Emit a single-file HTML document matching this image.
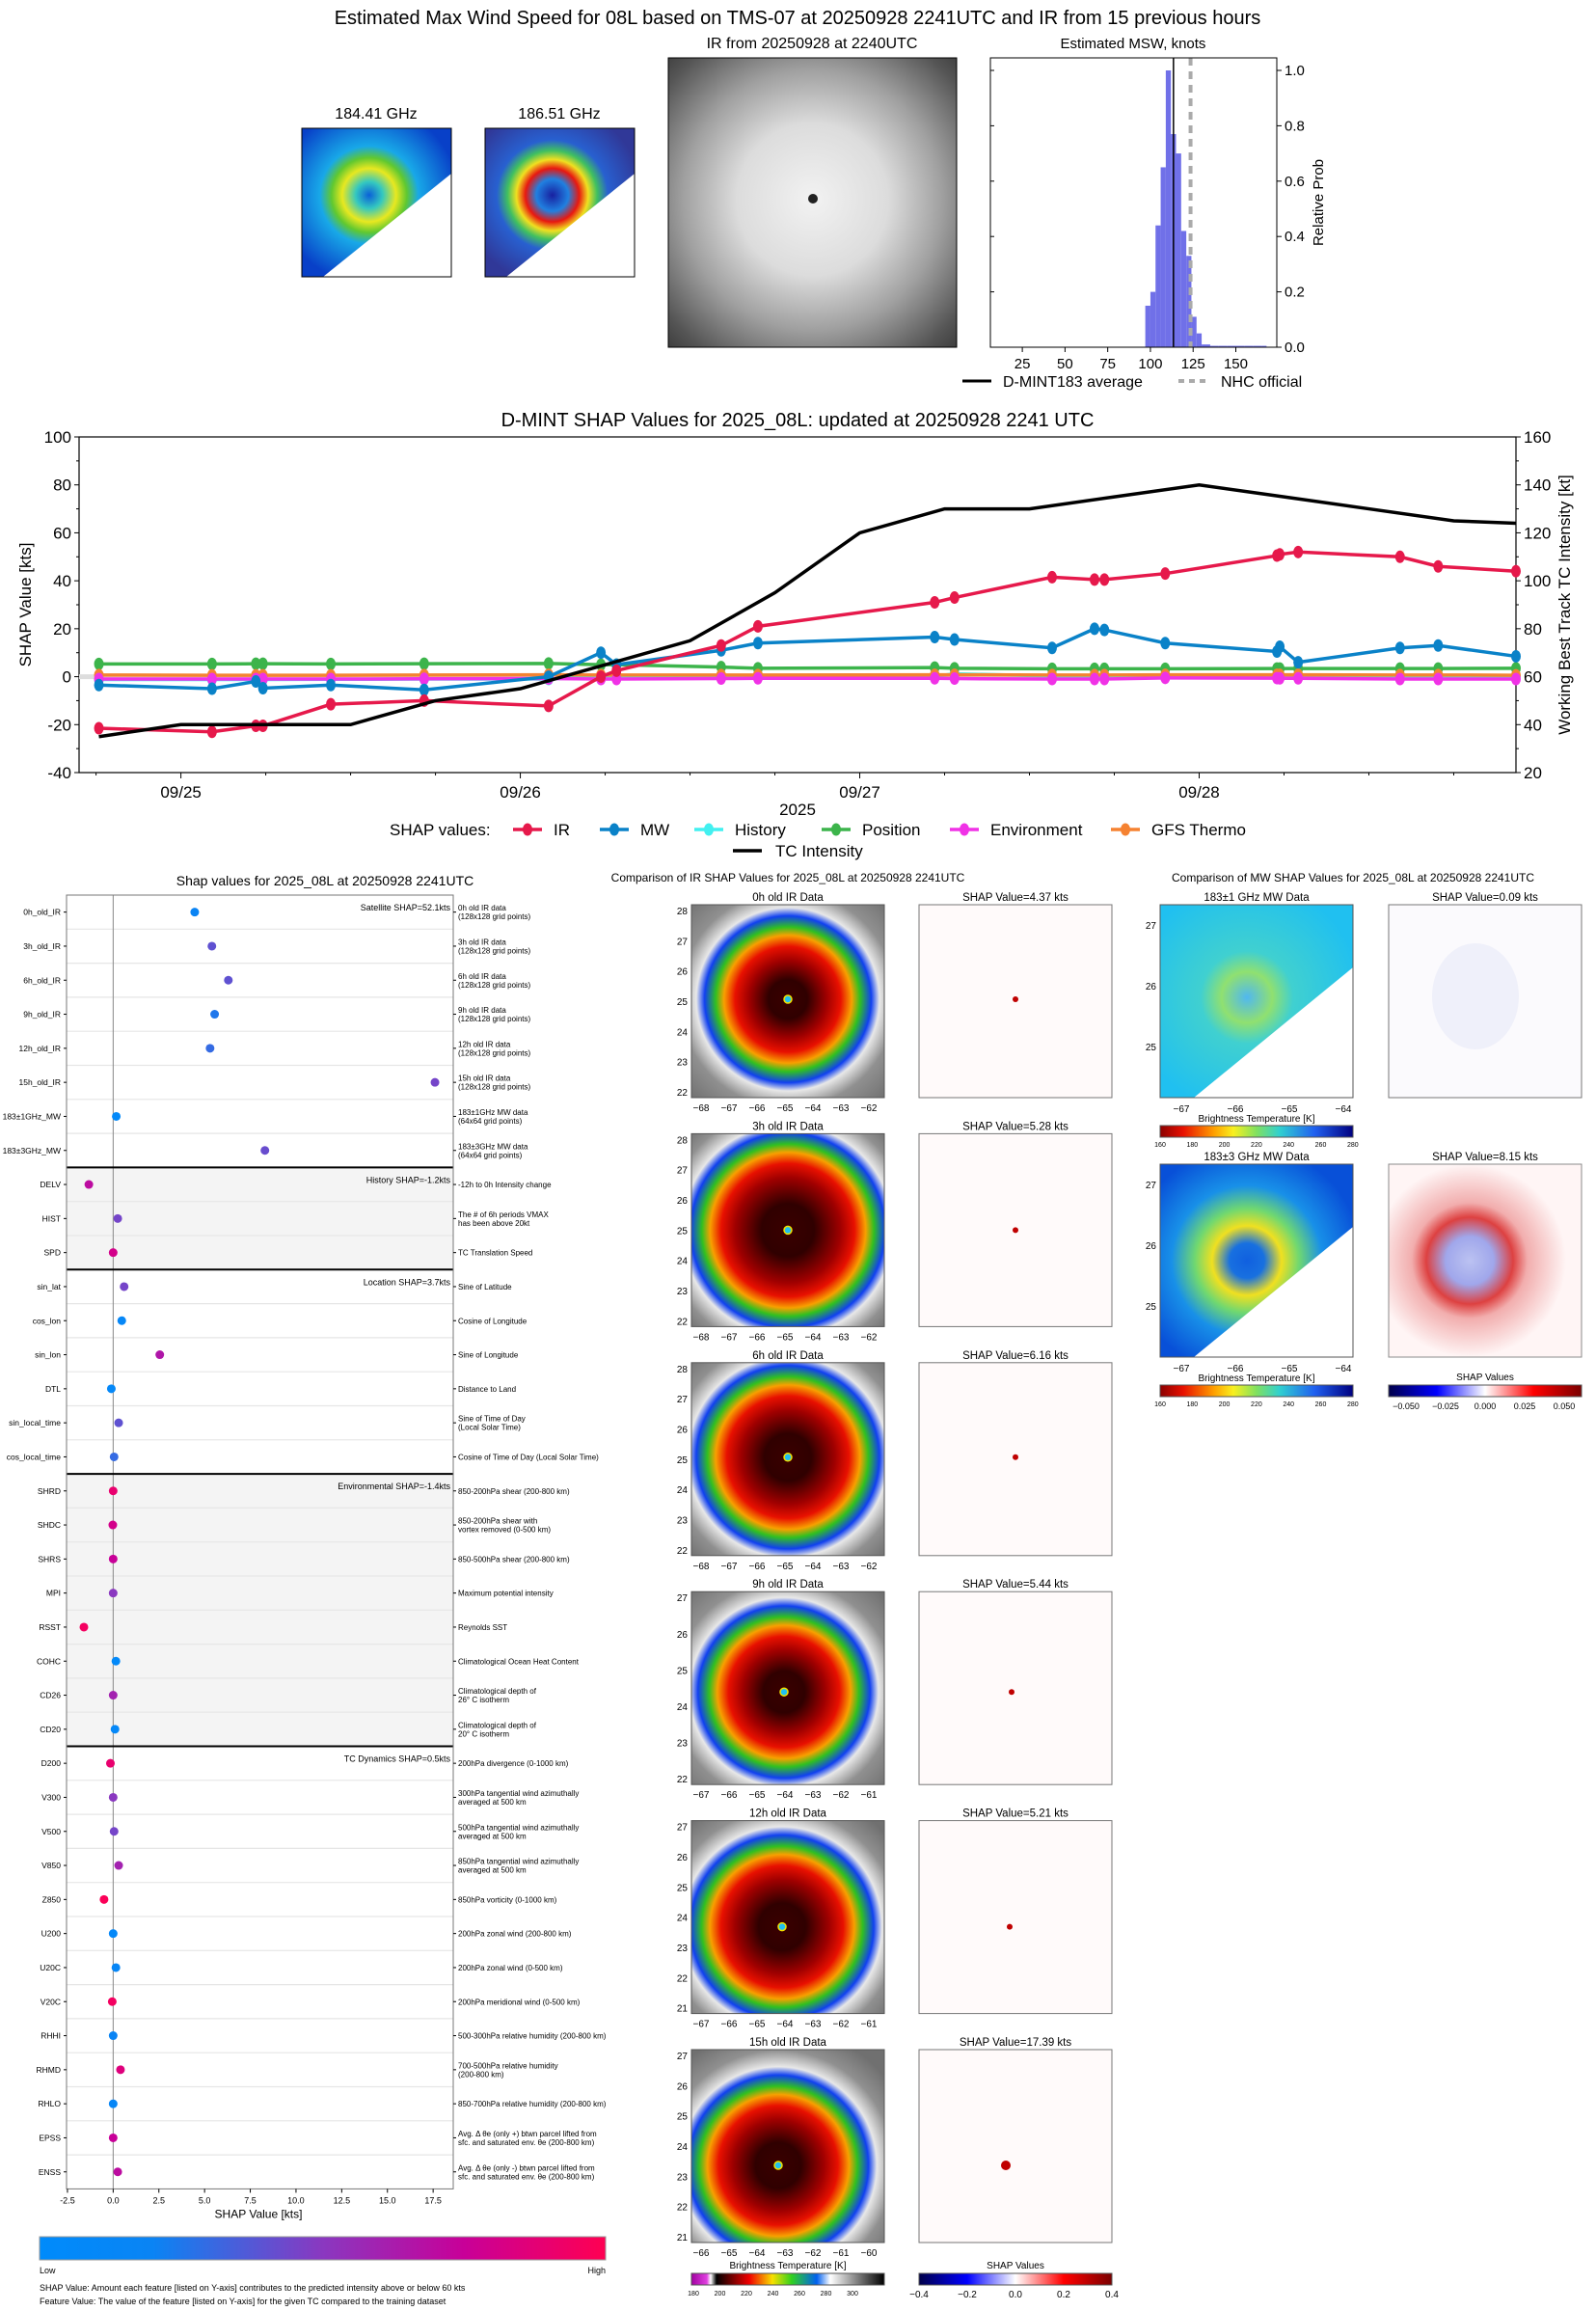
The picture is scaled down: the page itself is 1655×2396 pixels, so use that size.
<!DOCTYPE html>
<html><head><meta charset="utf-8"><style>
body{margin:0;background:#fff}
svg{display:block;font-family:"Liberation Sans",sans-serif}
</style></head><body>
<svg id="s" width="1655" height="2396" viewBox="0 0 1655 2396" xmlns="http://www.w3.org/2000/svg">
<defs>
<radialGradient id="gIR" cx="0.5" cy="0.49" r="0.75">
<stop offset="0" stop-color="#f2f2f2"/><stop offset="0.35" stop-color="#dcdcdc"/><stop offset="0.6" stop-color="#a0a0a0"/><stop offset="0.85" stop-color="#555"/><stop offset="1" stop-color="#333"/></radialGradient>
<radialGradient id="mw1" cx="0.45" cy="0.45" r="0.6"><stop offset="0" stop-color="#0a60d8"/><stop offset="0.15" stop-color="#34c8c0"/><stop offset="0.3" stop-color="#e8e820"/><stop offset="0.42" stop-color="#60c830"/><stop offset="0.55" stop-color="#18a8e8"/><stop offset="1" stop-color="#0840c8"/></radialGradient>
<radialGradient id="mw2" cx="0.45" cy="0.45" r="0.6"><stop offset="0" stop-color="#1820a0"/><stop offset="0.18" stop-color="#2080e0"/><stop offset="0.3" stop-color="#e81810"/><stop offset="0.4" stop-color="#f0e020"/><stop offset="0.5" stop-color="#40c060"/><stop offset="0.62" stop-color="#2860d0"/><stop offset="1" stop-color="#303898"/></radialGradient>
<radialGradient id="mw3" cx="0.45" cy="0.48" r="0.6"><stop offset="0" stop-color="#50b8f0"/><stop offset="0.22" stop-color="#90e070"/><stop offset="0.4" stop-color="#40d0d0"/><stop offset="1" stop-color="#20c0f0"/></radialGradient>
<radialGradient id="mw4" cx="0.45" cy="0.5" r="0.6"><stop offset="0" stop-color="#1060e0"/><stop offset="0.15" stop-color="#1870e0"/><stop offset="0.3" stop-color="#f0e020"/><stop offset="0.45" stop-color="#70d870"/><stop offset="0.65" stop-color="#1890e8"/><stop offset="1" stop-color="#0850d8"/></radialGradient>
<radialGradient id="shapMW" cx="0.42" cy="0.5" r="0.5"><stop offset="0" stop-color="#b0b8f0"/><stop offset="0.25" stop-color="#9098e8"/><stop offset="0.45" stop-color="#d82020"/><stop offset="0.6" stop-color="#f0a0a0"/><stop offset="1" stop-color="#fff4f4"/></radialGradient>
<linearGradient id="cbLow" x1="0" x2="1"><stop offset="0" stop-color="#008bfb"/><stop offset="0.2" stop-color="#0a84f4"/><stop offset="0.5" stop-color="#8a38c0"/><stop offset="0.75" stop-color="#c80098"/><stop offset="1" stop-color="#ff0052"/></linearGradient>
<linearGradient id="cbBT" x1="0" x2="1"><stop offset="0" stop-color="#8b0000"/><stop offset="0.12" stop-color="#e81000"/><stop offset="0.28" stop-color="#ffa000"/><stop offset="0.38" stop-color="#f8f020"/><stop offset="0.5" stop-color="#80e060"/><stop offset="0.62" stop-color="#30d0d0"/><stop offset="0.8" stop-color="#2060f0"/><stop offset="1" stop-color="#000080"/></linearGradient>
<linearGradient id="cbIR" x1="0" x2="1"><stop offset="0" stop-color="#a000a0"/><stop offset="0.08" stop-color="#e040e0"/><stop offset="0.1" stop-color="#fff"/><stop offset="0.13" stop-color="#000"/><stop offset="0.2" stop-color="#600"/><stop offset="0.3" stop-color="#f00000"/><stop offset="0.42" stop-color="#f8e000"/><stop offset="0.52" stop-color="#30d020"/><stop offset="0.65" stop-color="#0060f0"/><stop offset="0.72" stop-color="#fff"/><stop offset="1" stop-color="#000"/></linearGradient>
<linearGradient id="cbSH" x1="0" x2="1"><stop offset="0" stop-color="#00004a"/><stop offset="0.25" stop-color="#0000ff"/><stop offset="0.5" stop-color="#ffffff"/><stop offset="0.75" stop-color="#ff0000"/><stop offset="1" stop-color="#7a0000"/></linearGradient>
</defs>
<g id="topg"></g><g id="mid"></g><g id="left"></g><g id="irp"></g><g id="mwp"></g>
</svg>
<script>
// ---------- DATA ----------
const histBins = [97,100,103,106,109,112,115,118,121,124,127,130,135,140,145,150,155,160,165];
const histProb = [0.15,0.2,0.44,0.65,1.0,0.77,0.7,0.42,0.33,0.11,0.05,0.01,0.005,0.005,0.005,0.005,0.005,0.005,0.005];
const histMean = 113.5;
const nhcOfficial = 123.5;
const histTicks = [25,50,75,100,125,150];
const probTicks = [0.0,0.2,0.4,0.6,0.8,1.0];

const shapHours = [-5.8,2.2,5.3,5.8,10.6,17.2,26.0,29.7,30.8,38.2,40.8,53.3,54.7,61.6,64.6,65.3,69.6,77.5,77.7,79.0,86.2,88.9,94.4];
const irShap   = [-21.5,-23,-20.5,-20.5,-11.5,-10,-12.2,0,2.5,13,21,31,33,41.5,40.5,40.5,43,50.5,51,52,50,46,44];
const mwShap   = [-3.5,-5,-2,-4.8,-3.5,-5.5,0,10,5,11,14,16.5,15.5,12,20,19.5,14,10.5,12.5,6,12,13,8.5];
const histShap = [-1.2,-1.2,-1.2,-1.2,-1.1,-1,-1,0,0,0,0,0.2,1.2,0.3,0,0,0,0,0,0,0,0,0];
const posShap  = [5.3,5.3,5.4,5.4,5.3,5.4,5.5,5,5,4,3.5,3.8,3.5,3.3,3.3,3.3,3.3,3.4,3.4,3.4,3.4,3.4,3.5];
const envShap  = [-1,-1,-1,-1,-1,-0.9,-0.8,-1,-1,-0.8,-0.7,-0.7,-0.8,-1,-1,-1,-0.5,-0.6,-0.7,-0.7,-1,-1,-1];
const gfsShap  = [0.7,0.6,0.6,0.6,0.6,0.7,0.8,0.7,0.7,0.7,0.7,0.8,0.8,0.7,0.7,0.7,0.8,0.8,0.8,0.8,0.7,0.7,0.6];
const bestHours = [-5.8,0,6,12,18,24,30,36,42,48,54,60,66,72,78,84,90,94.4];
const bestVmax  = [35,40,40,40,50,55,65,75,95,120,130,130,135,140,135,130,125,124];
const dateTicks = ['09/25','09/26','09/27','09/28'];
const leftTicks = [-40,-20,0,20,40,60,80,100];
const rightTicks = [20,40,60,80,100,120,140,160];

const featNames = ['0h_old_IR','3h_old_IR','6h_old_IR','9h_old_IR','12h_old_IR','15h_old_IR','183±1GHz_MW','183±3GHz_MW','DELV','HIST','SPD','sin_lat','cos_lon','sin_lon','DTL','sin_local_time','cos_local_time','SHRD','SHDC','SHRS','MPI','RSST','COHC','CD26','CD20','D200','V300','V500','V850','Z850','U200','U20C','V20C','RHHI','RHMD','RHLO','EPSS','ENSS'];
const featShap = [4.46,5.4,6.3,5.55,5.3,17.6,0.17,8.3,-1.33,0.25,0.0,0.6,0.47,2.55,-0.1,0.3,0.05,0,-0.02,0,0,-1.6,0.15,0,0.1,-0.15,0,0.05,0.3,-0.5,0,0.15,-0.05,0,0.4,0,0,0.25];
const featValue = [0.2,0.4,0.4,0.25,0.3,0.45,0.05,0.42,0.7,0.45,0.8,0.45,0.12,0.65,0.1,0.4,0.3,0.9,0.8,0.75,0.5,0.95,0.05,0.6,0.1,0.9,0.5,0.45,0.6,0.98,0.1,0.15,0.95,0.2,0.85,0.15,0.75,0.7];
const featDesc = [['0h old IR data','(128x128 grid points)'],['3h old IR data','(128x128 grid points)'],['6h old IR data','(128x128 grid points)'],['9h old IR data','(128x128 grid points)'],['12h old IR data','(128x128 grid points)'],['15h old IR data','(128x128 grid points)'],['183±1GHz MW data','(64x64 grid points)'],['183±3GHz MW data','(64x64 grid points)'],['-12h to 0h Intensity change'],['The # of 6h periods VMAX','has been above 20kt'],['TC Translation Speed'],['Sine of Latitude'],['Cosine of Longitude'],['Sine of Longitude'],['Distance to Land'],['Sine of Time of Day','(Local Solar Time)'],['Cosine of Time of Day (Local Solar Time)'],['850-200hPa shear (200-800 km)'],['850-200hPa shear with','vortex removed (0-500 km)'],['850-500hPa shear (200-800 km)'],['Maximum potential intensity'],['Reynolds SST'],['Climatological Ocean Heat Content'],['Climatological depth of','26° C isotherm'],['Climatological depth of','20° C isotherm'],['200hPa divergence (0-1000 km)'],['300hPa tangential wind azimuthally','averaged at 500 km'],['500hPa tangential wind azimuthally','averaged at 500 km'],['850hPa tangential wind azimuthally','averaged at 500 km'],['850hPa vorticity (0-1000 km)'],['200hPa zonal wind (200-800 km)'],['200hPa zonal wind (0-500 km)'],['200hPa meridional wind (0-500 km)'],['500-300hPa relative humidity (200-800 km)'],['700-500hPa relative humidity','(200-800 km)'],['850-700hPa relative humidity (200-800 km)'],['Avg. Δ θe (only +) btwn parcel lifted from','sfc. and saturated env. θe (200-800 km)'],['Avg. Δ θe (only -) btwn parcel lifted from','sfc. and saturated env. θe (200-800 km)']];
const groupStart = [0,8,11,17,25];
const groupLabel = ['Satellite SHAP=52.1kts','History SHAP=-1.2kts','Location SHAP=3.7kts','Environmental SHAP=-1.4kts','TC Dynamics SHAP=0.5kts'];
const shapTicks = [-2.5,0,2.5,5,7.5,10,12.5,15,17.5];

const irLabels = ['0h old IR Data','3h old IR Data','6h old IR Data','9h old IR Data','12h old IR Data','15h old IR Data'];
const irShapVals = ['4.37','5.28','6.16','5.44','5.21','17.39'];
const irEyeX = [0.5,0.5,0.5,0.48,0.47,0.45];
const irEyeY = [0.49,0.5,0.49,0.52,0.55,0.6];
const irCoreR = [0.28,0.38,0.34,0.3,0.34,0.33];
const irXTicks = [['−68','−67','−66','−65','−64','−63','−62'],['−68','−67','−66','−65','−64','−63','−62'],['−68','−67','−66','−65','−64','−63','−62'],['−67','−66','−65','−64','−63','−62','−61'],['−67','−66','−65','−64','−63','−62','−61'],['−66','−65','−64','−63','−62','−61','−60']];
const irYTicks = [['28','27','26','25','24','23','22'],['28','27','26','25','24','23','22'],['28','27','26','25','24','23','22'],['27','26','25','24','23','22'],['27','26','25','24','23','22','21'],['27','26','25','24','23','22','21']];

// ---------- helpers ----------
const NS='http://www.w3.org/2000/svg';
function mk(parent,tag,attrs,txt){const e=document.createElementNS(NS,tag);for(const k in attrs)e.setAttribute(k,attrs[k]);if(txt!==undefined)e.textContent=txt;parent.appendChild(e);return e;}
function T(parent,x,y,s,size,anchor,name,extra){const e=mk(parent,'text',Object.assign({x:x,y:y,'font-size':size,'text-anchor':anchor||'middle',fill:'#000'},extra||{}),s);


return e;}
function cmapLH(v){const a=[[0,0,139,251],[0.2,10,132,244],[0.5,138,56,192],[0.75,200,0,152],[1,255,0,82]];for(let i=1;i<a.length;i++){if(v<=a[i][0]){const t=(v-a[i-1][0])/(a[i][0]-a[i-1][0]);return 'rgb('+[1,2,3].map(j=>Math.round(a[i-1][j]+t*(a[i][j]-a[i-1][j]))).join(',')+')';}}return 'rgb(255,0,82)';}

// ---------- TOP ----------
const topG=document.getElementById('topg');
T(topG,827,25,'Estimated Max Wind Speed for 08L based on TMS-07 at 20250928 2241UTC and IR from 15 previous hours',20,'middle','main-title');
[['184.41 GHz',313,'mw1'],['186.51 GHz',503,'mw2']].forEach((m,i)=>{
 const g=mk(topG,'g',{});
 
 
 T(topG,m[1]+77,123,m[0],16,'middle','mw-title-'+(i+1));
 mk(g,'rect',{x:m[1],y:133,width:155,height:154,fill:'url(#'+m[2]+')'});
 mk(g,'polygon',{points:(m[1]+155)+',180 '+(m[1]+155)+',287 '+(m[1]+22)+',287',fill:'#fff'});
 mk(g,'rect',{x:m[1],y:133,width:155,height:154,fill:'none',stroke:'#000','stroke-width':1});
});
T(topG,842,50,'IR from 20250928 at 2240UTC',16,'middle','ir-title');
const ig=mk(topG,'g',{});


mk(ig,'rect',{x:693,y:60,width:299,height:300,fill:'url(#gIR)',stroke:'#000'});
mk(ig,'circle',{cx:843,cy:206,r:5,fill:'#222'});
// histogram
const hx0=1027,hx1=1324,hy0=360,hy1=60;
const hX=v=>hx0+(v-6.3)*(hx1-hx0)/(174-6.3), hY=p=>hy0-p*287;
T(topG,1175,50,'Estimated MSW, knots',15,'middle','hist-title');
histBins.forEach((b,i)=>{const w=i<histBins.length-1?histBins[i+1]-b:3;const r=mk(topG,'rect',{x:hX(b),y:hY(histProb[i]),width:hX(b+w)-hX(b),height:hY(0)-hY(histProb[i]),fill:'#7070e8'});

});
mk(topG,'line',{x1:hX(histMean),x2:hX(histMean),y1:hy1,y2:hy0,stroke:'#000','stroke-width':1.5});
mk(topG,'line',{x1:hX(nhcOfficial),x2:hX(nhcOfficial),y1:hy1,y2:hy0,stroke:'#aaa','stroke-width':4,'stroke-dasharray':'8,6'});
mk(topG,'rect',{x:hx0,y:hy1,width:hx1-hx0,height:hy0-hy1,fill:'none',stroke:'#000'});
histTicks.forEach(t=>{mk(topG,'line',{x1:hX(t),x2:hX(t),y1:hy0,y2:hy0+5,stroke:'#000'});T(topG,hX(t),hy0+22,String(t),15,'middle','hist-x-tick');});
probTicks.forEach(p=>{mk(topG,'line',{x1:hx1,x2:hx1+5,y1:hY(p),y2:hY(p),stroke:'#000'});mk(topG,'line',{x1:hx0,x2:hx0+4,y1:hY(p),y2:hY(p),stroke:'#000'});T(topG,hx1+8,hY(p)+5,p.toFixed(1),15,'start','hist-y-tick');});
T(topG,1372,210,'Relative Prob',15,'middle','hist-y-title',{transform:'rotate(-90 1372 210)'});
mk(topG,'line',{x1:998,x2:1028,y1:395,y2:395,stroke:'#000','stroke-width':3});
T(topG,1040,401,'D-MINT183 average',16,'start','legend-dmint');
mk(topG,'line',{x1:1222,x2:1252,y1:395,y2:395,stroke:'#aaa','stroke-width':4,'stroke-dasharray':'6,5'});
T(topG,1266,401,'NHC official',16,'start','legend-nhc');

// ---------- MIDDLE ----------
const mid=document.getElementById('mid');
const mx0=82,mx1=1572,my0=801,my1=453,hmin=-7.2,hmax=94.4;
const X=h=>mx0+(h-hmin)*(mx1-mx0)/(hmax-hmin);
const YL=v=>my0-(v+40)*(my0-my1)/140;
const YR=v=>my0-(v-20)*(my0-my1)/140;
T(mid,827,442,'D-MINT SHAP Values for 2025_08L: updated at 20250928 2241 UTC',20,'middle','shap-chart-title');
mk(mid,'rect',{x:mx0,y:my1,width:mx1-mx0,height:my0-my1,fill:'none',stroke:'#000','stroke-width':1.2});
leftTicks.forEach(t=>{mk(mid,'line',{x1:mx0-5,x2:mx0,y1:YL(t),y2:YL(t),stroke:'#000'});T(mid,mx0-8,YL(t)+6,String(t),17,'end','left-y-tick');});
for(let t=-30;t<100;t+=20)mk(mid,'line',{x1:mx0-3,x2:mx0,y1:YL(t),y2:YL(t),stroke:'#000'});
rightTicks.forEach(t=>{mk(mid,'line',{x1:mx1,x2:mx1+5,y1:YR(t),y2:YR(t),stroke:'#000'});T(mid,mx1+8,YR(t)+6,String(t),17,'start','right-y-tick');});
for(let t=30;t<160;t+=20)mk(mid,'line',{x1:mx1,x2:mx1+3,y1:YR(t),y2:YR(t),stroke:'#000'});
dateTicks.forEach((d,i)=>{const x=X(i*24);mk(mid,'line',{x1:x,x2:x,y1:my0,y2:my0+6,stroke:'#000'});T(mid,x,my0+26,d,17,'middle','date-tick');});
for(let h=-6;h<hmax;h+=6){if(h%24)mk(mid,'line',{x1:X(h),x2:X(h),y1:my0,y2:my0+3,stroke:'#000'});}
T(mid,827,845,'2025',17,'middle','x-axis-title');
T(mid,32,627,'SHAP Value [kts]',17,'middle','left-y-title',{transform:'rotate(-90 32 627)'});
T(mid,1628,627,'Working Best Track TC Intensity [kt]',17,'middle','right-y-title',{transform:'rotate(-90 1628 627)'});
mk(mid,'line',{x1:mx0,x2:mx1,y1:YL(0),y2:YL(0),stroke:'#ddd','stroke-width':5});
function series(vals,col,name){const g=mk(mid,'g',{});
 
 
 mk(g,'polyline',{points:vals.map((v,i)=>X(shapHours[i])+','+YL(v)).join(' '),fill:'none',stroke:col,'stroke-width':3.5});
 vals.forEach((v,i)=>{const c=mk(g,'ellipse',{cx:X(shapHours[i]),cy:YL(v),rx:5,ry:6.5,fill:col});
 
 });}
series(histShap,'#42f0f0','history');series(posShap,'#3cb44b','position');series(gfsShap,'#f58231','gfs-thermo');series(envShap,'#f032e6','environment');series(mwShap,'#0a82c8','mw');series(irShap,'#e6194b','ir');
const tc=mk(mid,'polyline',{points:bestVmax.map((v,i)=>X(bestHours[i])+','+YR(v)).join(' '),fill:'none',stroke:'#000','stroke-width':3.5});


T(mid,404,866,'SHAP values:',17,'start','legend-label');
[['IR','#e6194b',532],['MW','#0a82c8',622],['History','#42f0f0',720],['Position','#3cb44b',852],['Environment','#f032e6',985],['GFS Thermo','#f58231',1152]].forEach(l=>{
 const g=mk(mid,'g',{});
 
 
 mk(g,'line',{x1:l[2],x2:l[2]+30,y1:860,y2:860,stroke:l[1],'stroke-width':3.5});
 mk(g,'ellipse',{cx:l[2]+15,cy:860,rx:5,ry:6.5,fill:l[1]});
 T(g,l[2]+42,866,l[0],17,'start','legend-text');
});
mk(mid,'line',{x1:760,x2:790,y1:882,y2:882,stroke:'#000','stroke-width':3.5});
T(mid,804,888,'TC Intensity',17,'start','legend-tc');

// ---------- LEFT PANEL ----------
const Lg=document.getElementById('left');
const lx0=69,lx1=470,ly0=928,rowH=35.3,sxmin=-2.55,sxmax=18.6;
const SX=v=>lx0+(v-sxmin)*(lx1-lx0)/(sxmax-sxmin);
const ly1=ly0+rowH*featNames.length;
T(Lg,337,918,'Shap values for 2025_08L at 20250928 2241UTC',14,'middle','shap-panel-title');
[[8,11],[17,25]].forEach(g=>mk(Lg,'rect',{x:lx0,y:ly0+g[0]*rowH,width:lx1-lx0,height:(g[1]-g[0])*rowH,fill:'#f4f4f4'}));
for(let i=1;i<featNames.length;i++)mk(Lg,'line',{x1:lx0,x2:lx1,y1:ly0+i*rowH,y2:ly0+i*rowH,stroke:'#e6e6e6','stroke-width':1.2});
mk(Lg,'line',{x1:SX(0),x2:SX(0),y1:ly0,y2:ly1,stroke:'#888','stroke-width':1});
groupStart.forEach((g,i)=>{if(g>0)mk(Lg,'line',{x1:lx0,x2:lx1,y1:ly0+g*rowH,y2:ly0+g*rowH,stroke:'#000','stroke-width':2});
 T(Lg,lx1-3,ly0+g*rowH+16,groupLabel[i],9,'end','group-label');});
mk(Lg,'rect',{x:lx0,y:ly0,width:lx1-lx0,height:ly1-ly0,fill:'none',stroke:'#777'});
featNames.forEach((n,i)=>{const cy=ly0+(i+0.5)*rowH;
 mk(Lg,'line',{x1:lx0-3,x2:lx0,y1:cy,y2:cy,stroke:'#000'});
 T(Lg,lx0-6,cy+3,n,8.5,'end','feature-name');
 mk(Lg,'line',{x1:lx1,x2:lx1+3,y1:cy,y2:cy,stroke:'#000'});
 const d=featDesc[i];d.forEach((s,k)=>T(Lg,lx1+5,cy+3+(k-(d.length-1)/2)*9,s,8,'start','feature-desc'));
 const c=mk(Lg,'circle',{cx:SX(featShap[i]),cy:cy,r:4.5,fill:cmapLH(featValue[i])});
 
 
});
shapTicks.forEach(t=>{mk(Lg,'line',{x1:SX(t),x2:SX(t),y1:ly1,y2:ly1+4,stroke:'#000'});T(Lg,SX(t),ly1+15,t.toFixed(1),9,'middle','shap-x-tick');});
T(Lg,268,ly1+30,'SHAP Value [kts]',12,'middle','shap-x-title');
mk(Lg,'rect',{x:41,y:2319,width:587,height:24,fill:'url(#cbLow)',stroke:'#999'});
T(Lg,41,2357,'Low',9,'start','cb-low');T(Lg,628,2357,'High',9,'end','cb-high');
T(Lg,41,2375,'SHAP Value: Amount each feature [listed on Y-axis] contributes to the predicted intensity above or below 60 kts',9,'start','footnote-1');
T(Lg,41,2389,'Feature Value: The value of the feature [listed on Y-axis] for the given TC compared to the training dataset',9,'start','footnote-2');

// ---------- IR PANELS ----------
const Pg=document.getElementById('irp');
const defsEl=document.querySelector('defs');
T(Pg,817,914,'Comparison of IR SHAP Values for 2025_08L at 20250928 2241UTC',12,'middle','ir-comparison-title');
irLabels.forEach((lab,i)=>{
 const y=938+i*237.4,x=717,w=200,h=200;
 T(Pg,x+w/2,y-4,lab,11.5,'middle','ir-panel-title');
 T(Pg,1053,y-4,'SHAP Value='+irShapVals[i]+' kts',11.5,'middle','ir-shap-title');
 const id='ir'+i;
 const gr=mk(defsEl,'radialGradient',{id:id,cx:irEyeX[i],cy:irEyeY[i],r:0.72});
 const R=irCoreR[i];
 [[0,'#3a0000'],[R*0.5,'#300000'],[R,'#a00000'],[R+0.1,'#e81000'],[R+0.18,'#f8a000'],[R+0.24,'#30c020'],[R+0.32,'#1040f0'],[R+0.38,'#e8e8e8'],[R+0.5,'#909090'],[1,'#707070']].forEach(s=>mk(gr,'stop',{offset:Math.min(1,s[0]),'stop-color':s[1]}));
 const g=mk(Pg,'g',{});
 
 
 mk(g,'rect',{x:x,y:y,width:w,height:h,fill:'url(#'+id+')',stroke:'#555'});
 mk(g,'circle',{cx:x+irEyeX[i]*w,cy:y+irEyeY[i]*h,r:4,fill:'#20c0f0',stroke:'#f0e000','stroke-width':1.5});
 irXTicks[i].forEach((t,k)=>T(Pg,x+10+k*29,y+h+14,t,10,'middle','ir-x-tick'));
 const yt=irYTicks[i];yt.forEach((t,k)=>T(Pg,x-4,y+10+k*(h-12)/(yt.length-1),t,10,'end','ir-y-tick'));
 const s=mk(Pg,'g',{});
 
 
 mk(s,'rect',{x:953,y:y,width:w,height:h,fill:'#fffafa',stroke:'#777'});
 mk(s,'circle',{cx:953+irEyeX[i]*w,cy:y+irEyeY[i]*h,r:i==5?5:3,fill:'#c00000'});
});
mk(Pg,'rect',{x:717,y:2357,width:200,height:12,fill:'url(#cbIR)',stroke:'#555'});
T(Pg,817,2352,'Brightness Temperature [K]',10,'middle','ir-cb-title');
['180','200','220','240','260','280','300'].forEach((t,k)=>T(Pg,717+k*27.5+2,2380,t,7,'middle','ir-cb-tick'));
mk(Pg,'rect',{x:953,y:2357,width:200,height:12,fill:'url(#cbSH)',stroke:'#555'});
T(Pg,1053,2352,'SHAP Values',10,'middle','shap-cb-title');
['−0.4','−0.2','0.0','0.2','0.4'].forEach((t,k)=>T(Pg,953+k*50,2382,t,10,'middle','shap-cb-tick'));

// ---------- MW PANELS ----------
const Mg=document.getElementById('mwp');
T(Mg,1403,914,'Comparison of MW SHAP Values for 2025_08L at 20250928 2241UTC',12,'middle','mw-comparison-title');
[['183±1 GHz MW Data','0.09','mw3',938],['183±3 GHz MW Data','8.15','mw4',1207]].forEach((m,i)=>{
 const y=m[3],x=1203,w=200,h=200;
 T(Mg,x+w/2,y-4,m[0],11.5,'middle','mw-panel-title');
 T(Mg,1540,y-4,'SHAP Value='+m[1]+' kts',11.5,'middle','mw-shap-title');
 const g=mk(Mg,'g',{});
 
 
 mk(g,'rect',{x:x,y:y,width:w,height:h,fill:'url(#'+m[2]+')'});
 mk(g,'polygon',{points:(x+w)+','+(y+65)+' '+(x+w)+','+(y+h)+' '+(x+35)+','+(y+h),fill:'#fff'});
 mk(g,'rect',{x:x,y:y,width:w,height:h,fill:'none',stroke:'#555'});
 ['−67','−66','−65','−64'].forEach((t,k)=>T(Mg,x+22+k*56,y+h+15,t,10,'middle','mw-x-tick'));
 ['27','26','25'].forEach((t,k)=>T(Mg,x-4,y+25+k*63,t,10,'end','mw-y-tick'));
 mk(Mg,'rect',{x:x,y:y+h+29,width:w,height:12,fill:'url(#cbBT)',stroke:'#555'});
 T(Mg,x+w/2,y+h+25,'Brightness Temperature [K]',10,'middle','mw-cb-title');
 ['160','180','200','220','240','260','280'].forEach((t,k)=>T(Mg,x+k*33.3,y+h+51,t,7,'middle','mw-cb-tick'));
 const s=mk(Mg,'g',{});
 
 
 mk(s,'rect',{x:1440,y:y,width:w,height:h,fill:i?'url(#shapMW)':'#fbfafd',stroke:'#777',opacity:i?0.85:1});
 if(!i)mk(s,'ellipse',{cx:1530,cy:y+95,rx:45,ry:55,fill:'#e8e9f8',opacity:0.6});
});
mk(Mg,'rect',{x:1440,y:1436,width:200,height:12,fill:'url(#cbSH)',stroke:'#555'});
T(Mg,1540,1431,'SHAP Values',10,'middle','mw-shap-cb-title');
['−0.050','−0.025','0.000','0.025','0.050'].forEach((t,k)=>T(Mg,1458+k*41,1461,t,9,'middle','mw-shap-cb-tick'));
</script>
</body></html>
